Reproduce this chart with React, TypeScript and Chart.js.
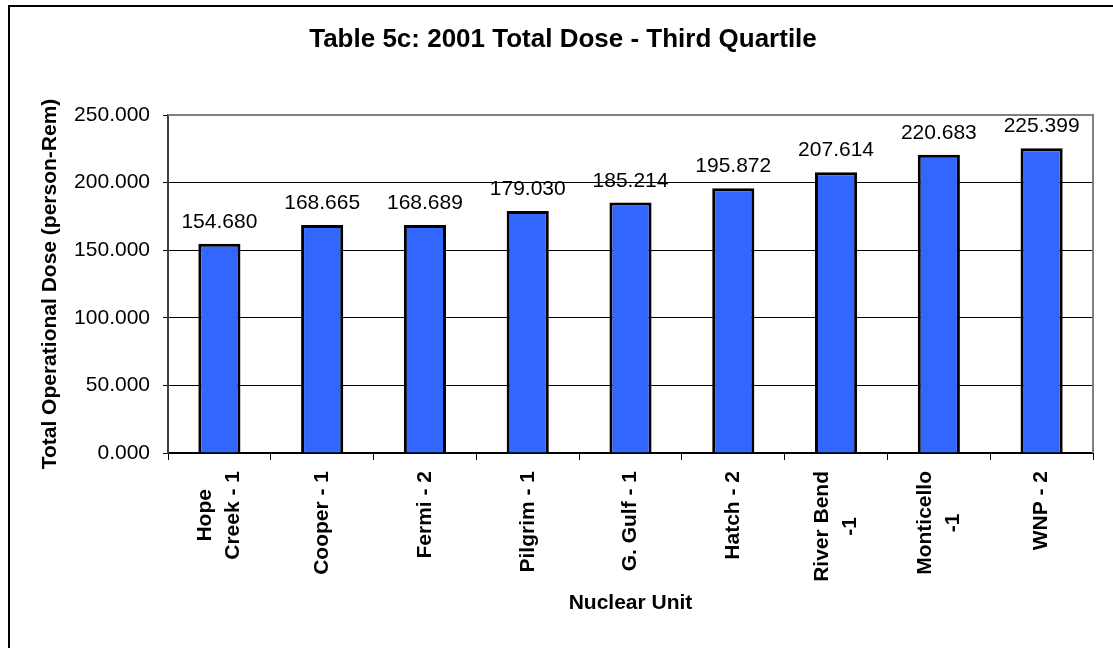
import React, { useEffect, useRef } from "react";
import { Chart, registerables } from "chart.js";

Chart.register(...registerables);

const TITLE = "Table 5c: 2001 Total Dose - Third Quartile";
const Y_TITLE = "Total Operational Dose (person-Rem)";
const X_TITLE = "Nuclear Unit";

const categories: (string | string[])[] = [
  ["Hope", "Creek - 1"],
  "Cooper - 1",
  "Fermi - 2",
  "Pilgrim - 1",
  "G. Gulf - 1",
  "Hatch - 2",
  ["River Bend", "-1"],
  ["Monticello", "-1"],
  "WNP - 2",
];
const doseValues = [154.68, 168.665, 168.689, 179.03, 185.214, 195.872, 207.614, 220.683, 225.399];
const yTickValues = [0, 50, 100, 150, 200, 250];

const FONT = '"Liberation Sans", Arial, Helvetica, sans-serif';

const decorPlugin = {
  id: "decor",
  beforeDraw(chart: any) {
    const { ctx, width, height } = chart;
    ctx.save();
    ctx.fillStyle = "#ffffff";
    ctx.fillRect(0, 0, width, height);
    ctx.restore();
  },
  afterDatasetsDraw(chart: any) {
    const { ctx } = chart;
    const meta = chart.getDatasetMeta(0);
    ctx.save();
    ctx.font = `21px ${FONT}`;
    ctx.fillStyle = "#000";
    ctx.textAlign = "center";
    ctx.textBaseline = "alphabetic";
    meta.data.forEach((el: any, i: number) => {
      const v = chart.data.datasets[0].data[i] as number;
      ctx.fillText(v.toFixed(3), el.x, el.y - 16);
    });
    ctx.restore();
  },
  afterDraw(chart: any) {
    const { ctx, chartArea } = chart;
    ctx.save();
    // plot area top/right border (gray)
    ctx.strokeStyle = "#808080";
    ctx.lineWidth = 2;
    ctx.beginPath();
    ctx.moveTo(chartArea.left, chartArea.top);
    ctx.lineTo(chartArea.right, chartArea.top);
    ctx.lineTo(chartArea.right, chartArea.bottom);
    ctx.stroke();
    // outer chart border
    ctx.strokeStyle = "#000";
    ctx.lineWidth = 2;
    ctx.strokeRect(9, 6, 1220, 800);
    // title
    ctx.fillStyle = "#000";
    ctx.font = `bold 26px ${FONT}`;
    ctx.textAlign = "center";
    ctx.textBaseline = "alphabetic";
    ctx.fillText(TITLE, 563, 47);
    // x category labels (rotated, centered lines)
    const xs = chart.scales.x;
    ctx.font = `bold 21px ${FONT}`;
    (chart.data.labels as any[]).forEach((lab, i) => {
      const lines: string[] = Array.isArray(lab) ? lab : [lab];
      const x = xs.getPixelForValue(i);
      const maxW = Math.max(...lines.map((l) => ctx.measureText(l).width));
      ctx.save();
      ctx.translate(x, chartArea.bottom + 18);
      ctx.rotate(-Math.PI / 2);
      ctx.textAlign = "center";
      ctx.textBaseline = "middle";
      lines.forEach((l, j) => {
        ctx.fillText(l, -maxW / 2, (j - (lines.length - 1) / 2) * 28);
      });
      ctx.restore();
    });
    ctx.restore();
  },
};

export default function App() {
  const ref = useRef<HTMLCanvasElement>(null);
  useEffect(() => {
    const chart = new Chart(ref.current as HTMLCanvasElement, {
      type: "bar",
      data: {
        labels: categories,
        datasets: [
          {
            data: doseValues,
            backgroundColor: "#3366FF",
            borderColor: "#000000",
            borderWidth: 3,
            barPercentage: 0.41,
            categoryPercentage: 1,
          },
        ],
      },
      options: {
        responsive: false,
        animation: false,
        devicePixelRatio: 1,
        layout: { padding: { left: 0, top: 115, right: 20, bottom: 0 } },
        plugins: {
          legend: { display: false },
          title: { display: false },
          tooltip: { enabled: false },
        },
        scales: {
          x: {
            offset: true,
            grid: {
              display: true,
              drawOnChartArea: false,
              drawTicks: true,
              tickLength: 7,
              color: "#000",
              lineWidth: 1,
              offset: true,
            },
            border: { display: true, color: "#000", width: 2 },
            ticks: { display: false },
            title: {
              display: true,
              text: X_TITLE,
              color: "#000",
              font: { family: FONT, size: 21, weight: "bold" },
              padding: { top: 0, bottom: 32 },
            },
            afterFit: (s: any) => {
              s.height = 195;
            },
          },
          y: {
            min: 0,
            max: 250,
            afterBuildTicks: (s: any) => {
              s.ticks = yTickValues.map((v) => ({ value: v }));
            },
            ticks: {
              color: "#000",
              font: { family: FONT, size: 21 },
              padding: 13,
              callback: (v: any) => Number(v).toFixed(3),
            },
            grid: { color: "#000", lineWidth: 1, tickLength: 5, drawTicks: true },
            border: { display: true, color: "#404040", width: 2 },
            title: {
              display: true,
              text: Y_TITLE,
              color: "#000",
              font: { family: FONT, size: 21, weight: "bold" },
              padding: { top: 38, bottom: 0 },
            },
            afterFit: (s: any) => {
              s.width = 168;
            },
          },
        },
      },
      plugins: [decorPlugin],
    } as any);
    return () => chart.destroy();
  }, []);
  return (
    <div style={{ position: "fixed", left: 0, top: 0, width: 1113, height: 648, background: "#fff" }}>
      <canvas ref={ref} width={1113} height={648} style={{ display: "block", width: 1113, height: 648 }} />
    </div>
  );
}
